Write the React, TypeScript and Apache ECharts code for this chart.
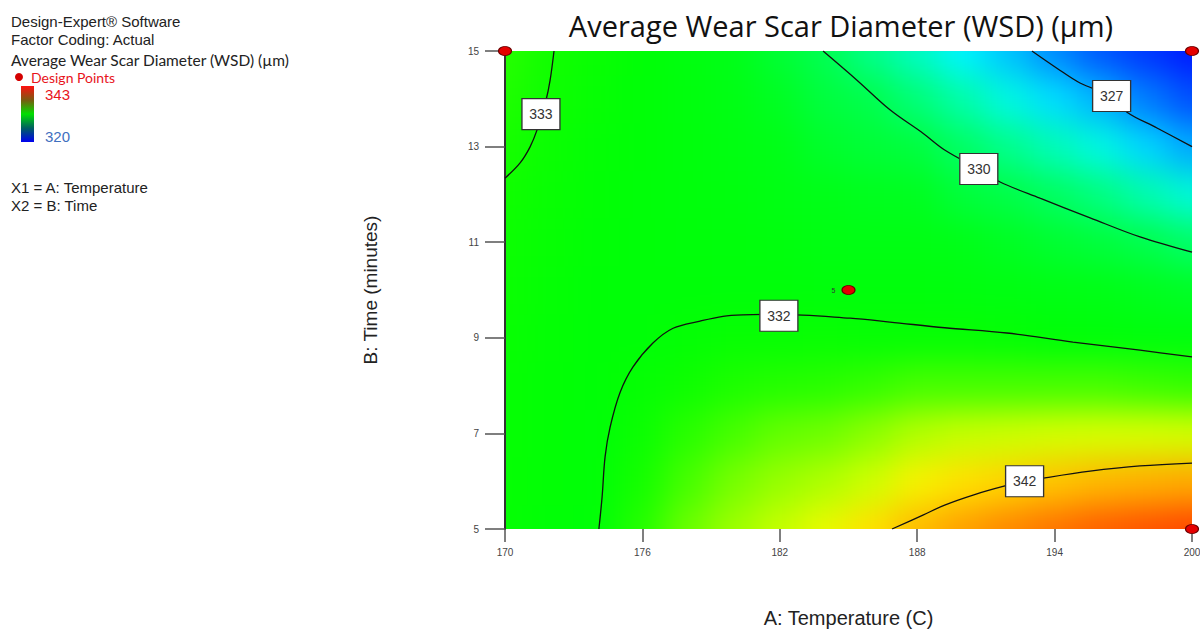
import React, { useEffect, useRef } from 'react';
import * as echarts from 'echarts';

// ---------- data ----------
const temperatureLevels = [170, 172, 174, 176, 178, 180, 182, 184, 186, 188, 190, 192, 194, 196, 198, 200];
const timeLevels = [5, 6, 7, 8, 9, 10, 11, 12, 13, 14, 15];

// estimated WSD (µm) at each temperature level, one row per time level
const wsdAt5 = [332.3, 332.05, 331.95, 333.5, 335.05, 336.6, 338.2, 339.7, 341.3, 342.5, 343.2, 343.8, 344.3, 344.8, 345.1, 345.4];
const wsdAt6 = [332.3, 332.1, 331.95, 333.1, 334.3, 335.4, 336.4, 337.3, 338.6, 340.4, 341.3, 341.85, 342.3, 342.6, 342.8, 342.95];
const wsdAt7 = [332.35, 332.1, 331.95, 332.7, 333.6, 334.3, 334.9, 335.2, 336.0, 337.4, 338.2, 338.5, 338.8, 338.9, 338.9, 338.8];
const wsdAt8 = [332.4, 332.15, 332.0, 332.3, 332.9, 333.3, 333.5, 333.6, 333.9, 334.3, 334.3, 334.3, 334.3, 334.3, 334.1, 333.9];
const wsdAt9 = [332.5, 332.2, 332.0, 331.95, 332.25, 332.45, 332.45, 332.5, 332.35, 332.4, 332.35, 332.25, 331.95, 331.85, 331.75, 331.6];
const wsdAt10 = [332.6, 332.25, 332.0, 331.9, 331.9, 331.85, 331.85, 331.75, 331.7, 331.7, 331.55, 331.4, 331.2, 331.1, 330.9, 330.75];
const wsdAt11 = [332.75, 332.35, 332.05, 331.9, 331.8, 331.7, 331.6, 331.35, 331.3, 331.3, 331.0, 330.8, 330.55, 330.35, 330.05, 329.7];
const wsdAt12 = [332.93, 332.5, 332.1, 331.9, 331.75, 331.55, 331.3, 331.0, 330.9, 330.85, 330.4, 330.15, 329.8, 329.4, 328.85, 328.4];
const wsdAt13 = [333.15, 332.65, 332.2, 331.95, 331.65, 331.4, 331.05, 330.65, 330.45, 330.3, 329.75, 329.25, 328.75, 328.3, 327.6, 327.0];
const wsdAt14 = [333.35, 332.85, 332.35, 331.97, 331.6, 331.2, 330.8, 330.3, 330.05, 329.5, 328.9, 328.3, 327.7, 327.15, 326.4, 325.6];
const wsdAt15 = [333.55, 333.03, 332.5, 332.0, 331.5, 331.0, 330.5, 329.97, 329.3, 328.65, 328.0, 327.35, 326.6, 325.8, 325.0, 324.2];
const wsdRows = [wsdAt5, wsdAt6, wsdAt7, wsdAt8, wsdAt9, wsdAt10, wsdAt11, wsdAt12, wsdAt13, wsdAt14, wsdAt15];

// contour lines [temperature, time]
const contour333 = [[172.14, 15], [171.97, 14.39], [171.79, 13.97], [171.4, 13.35], [171.09, 12.99], [170.66, 12.66], [170, 12.34]];
const contour332 = [[174.1, 5], [174.24, 5.67], [174.37, 6.51], [174.59, 7.13], [175.02, 7.85], [175.59, 8.39], [176.46, 8.89], [177.34, 9.2], [178.52, 9.35], [179.52, 9.45], [180.39, 9.48], [181.96, 9.49], [185.07, 9.41], [186.81, 9.33], [189.2, 9.21], [191.92, 9.1], [194.8, 8.91], [197.73, 8.74], [200, 8.6]];
const contour330 = [[183.89, 15], [185.37, 14.39], [186.81, 13.77], [188.25, 13.28], [189.2, 12.93], [190.69, 12.53], [191.62, 12.26], [193.36, 11.92], [195.55, 11.51], [197.73, 11.11], [200, 10.79]];
const contour327 = [[193.01, 15], [194.1, 14.64], [195.11, 14.33], [196.51, 14.04], [197.16, 13.72], [198.47, 13.39], [200, 13.0]];
const contour342 = [[186.9, 5], [188.25, 5.29], [189.2, 5.5], [190.44, 5.71], [191.83, 5.9], [192.66, 5.99], [193.58, 6.07], [195.55, 6.21], [197.73, 6.32], [200, 6.38]];
const contourLines = [contour333, contour332, contour330, contour327, contour342];

const contourLabelText = ['333', '332', '330', '327', '342'];
const contourLabelTemp = [171.57, 181.96, 190.69, 196.49, 192.69];
const contourLabelTime = [13.68, 9.46, 12.53, 14.06, 6.0];

// design points: temperature, time, replicates
const designTemp = [170, 200, 200, 185];
const designTime = [15, 15, 5, 10];
const designReps = [1, 1, 1, 5];

const xTickStep = 6;
const yTickStep = 2;
const legendHigh = 343;
const legendLow = 320;

const infoLines = ['Design-Expert® Software', 'Factor Coding: Actual'];
const factorLines = ['X1 = A: Temperature', 'X2 = B: Time'];

// ---------- styles ----------
const surfaceColors = ['#0000ff', '#0000ff', '#0000ff', '#0008ff', '#0014ff', '#0038ff', '#0060ff', '#00a8ff', '#00f4ff', '#00ffa0', '#00ff50', '#00ff18', '#00ff06', '#10ff00', '#38ff00', '#68ff00', '#8cff00', '#a8ff00', '#c0ff00', '#d8ff00', '#f0f800', '#ffe800', '#ffd000', '#ffa800', '#ff8000', '#ff5800', '#ff3000'];
const GRID = { left: 505, top: 51, width: 687, height: 478 };
const PAD = 60;

const surfaceData: number[][] = [];
wsdRows.forEach((row, j) => row.forEach((v, i) => surfaceData.push([temperatureLevels[i], timeLevels[j], v])));
const halfX = (temperatureLevels[1] - temperatureLevels[0]) / 2;
const halfY = (timeLevels[1] - timeLevels[0]) / 2;
const xMin = temperatureLevels[0];
const xMax = temperatureLevels[temperatureLevels.length - 1];
const yMin = timeLevels[0];
const yMax = timeLevels[timeLevels.length - 1];

export default function App() {
  const surfaceRef = useRef<HTMLDivElement>(null);
  const mainRef = useRef<HTMLDivElement>(null);

  useEffect(() => {
    const surf = echarts.init(surfaceRef.current!, null, { renderer: 'svg' });
    surf.setOption({
      animation: false,
      grid: { left: PAD, top: PAD, width: GRID.width, height: GRID.height, outerBoundsMode: 'none' },
      xAxis: { type: 'value', min: xMin, max: xMax, show: false },
      yAxis: { type: 'value', min: yMin, max: yMax, show: false },
      visualMap: { show: false, type: 'continuous', min: 320, max: 346, dimension: 2, seriesIndex: 0, inRange: { color: surfaceColors } },
      series: [{
        type: 'custom',
        data: surfaceData,
        encode: { x: 0, y: 1 },
        clip: false,
        renderItem: (params: any, api: any) => {
          const x = api.value(0), y = api.value(1);
          const a = api.coord([x - halfX, y + halfY]);
          const b = api.coord([x + halfX, y - halfY]);
          // edge cells are stretched past the plot so the smoothing has no fade at the borders
          const x0 = x - halfX < xMin ? 0 : a[0] - 0.5;
          const x1 = x + halfX > xMax ? api.getWidth() : b[0] + 0.5;
          const y0 = y + halfY > yMax ? 0 : a[1] - 0.5;
          const y1 = y - halfY < yMin ? api.getHeight() : b[1] + 0.5;
          return {
            type: 'rect',
            shape: { x: x0, y: y0, width: x1 - x0, height: y1 - y0 },
            style: { fill: api.visual('color'), opacity: 1 },
          };
        },
      }],
    });

    const main = echarts.init(mainRef.current!, null, { renderer: 'svg' });
    const axisFont = 'Liberation Sans';
    const series: any[] = contourLines.map((pts) => ({
      type: 'line', data: pts, smooth: 0.35, symbol: 'none', silent: true, z: 2,
      lineStyle: { color: '#111', width: 1.3, opacity: 1 },
    }));
    series.push({
      type: 'scatter', z: 5, silent: true, clip: false,
      symbol: 'rect', symbolSize: [38, 31],
      itemStyle: { color: '#ffffff', borderColor: '#333', borderWidth: 1.2, opacity: 1 },
      label: { show: true, position: 'inside', formatter: '{b}', fontFamily: axisFont, fontSize: 14, color: '#333' },
      data: contourLabelText.map((t, i) => ({ name: t, value: [contourLabelTemp[i], contourLabelTime[i]] })),
    });
    series.push({
      type: 'scatter', z: 8, silent: true, clip: false,
      symbol: 'circle', symbolSize: [13, 9],
      itemStyle: { color: '#e50000', borderColor: '#6a0000', borderWidth: 1, opacity: 1 },
      label: {
        show: true, position: 'left', distance: 6, fontSize: 7, color: '#333', fontFamily: axisFont,
        formatter: (p: any) => (p.value[2] > 1 ? String(p.value[2]) : ''),
      },
      data: designTemp.map((t, i) => [t, designTime[i], designReps[i]]),
    });

    const graphic: any[] = [];
    infoLines.forEach((t, i) => graphic.push({
      type: 'text', x: 11, y: [21, 39][i],
      style: { text: t, font: `15px "${axisFont}"`, fill: '#222', textVerticalAlign: 'middle' },
    }));
    graphic.push({
      type: 'text', x: 11, y: 59.5,
      style: { text: 'Average Wear Scar Diameter (WSD) (µm)', font: '15.5px Lato', fill: '#222', textVerticalAlign: 'middle' },
    });
    graphic.push({ type: 'circle', shape: { cx: 19, cy: 77, r: 4 }, style: { fill: '#d40000' } });
    graphic.push({
      type: 'text', x: 31, y: 77,
      style: { text: 'Design Points', font: '14px Lato', fill: '#e8141b', textVerticalAlign: 'middle' },
    });
    graphic.push({
      type: 'rect', shape: { x: 21, y: 86, width: 13, height: 56 },
      style: {
        fill: new echarts.graphic.LinearGradient(0, 0, 0, 1, [
          { offset: 0, color: '#ff1010' },
          { offset: 0.25, color: '#7a5a10' },
          { offset: 0.5, color: '#00e000' },
          { offset: 0.75, color: '#006060' },
          { offset: 1, color: '#0000f0' },
        ]),
      },
    });
    graphic.push({
      type: 'text', x: 45, y: 94.5,
      style: { text: String(legendHigh), font: `15px "${axisFont}"`, fill: '#e8141b', textVerticalAlign: 'middle' },
    });
    graphic.push({
      type: 'text', x: 45, y: 136,
      style: { text: String(legendLow), font: `15px "${axisFont}"`, fill: '#3f6fbf', textVerticalAlign: 'middle' },
    });
    factorLines.forEach((t, i) => graphic.push({
      type: 'text', x: 11, y: [187, 205][i],
      style: { text: t, font: `15px "${axisFont}"`, fill: '#222', textVerticalAlign: 'middle' },
    }));

    main.setOption({
      animation: false,
      backgroundColor: 'transparent',
      title: {
        text: 'Average Wear Scar Diameter (WSD) (µm)', left: 836, top: 6, textAlign: 'center',
        textStyle: { fontFamily: 'Open Sans', fontSize: 29, fontWeight: 'normal', color: '#111' },
      },
      grid: { ...GRID, outerBoundsMode: 'none', containLabel: false },
      xAxis: {
        type: 'value', min: 170, max: 200, interval: xTickStep,
        name: 'A: Temperature (C)', nameLocation: 'middle', nameGap: 79, nameMoveOverlap: false,
        nameTextStyle: { fontFamily: axisFont, fontSize: 20, color: '#222' },
        axisLine: { show: false },
        axisTick: { show: true, length: 13, lineStyle: { color: '#555', width: 1.5 } },
        axisLabel: { margin: 18, fontSize: 10, color: '#444', fontFamily: axisFont },
        splitLine: { show: false },
      },
      yAxis: {
        type: 'value', min: 5, max: 15, interval: yTickStep,
        name: 'B: Time (minutes)', nameLocation: 'middle', nameGap: 125, nameRotate: 90, nameMoveOverlap: false,
        nameTextStyle: { fontFamily: axisFont, fontSize: 19, color: '#222' },
        axisLine: { show: true, lineStyle: { color: '#333', width: 2 } },
        axisTick: { show: true, length: 20, lineStyle: { color: '#555', width: 1.5 } },
        axisLabel: { margin: 26, fontSize: 10, color: '#444', fontFamily: axisFont },
        splitLine: { show: false },
      },
      series,
      graphic,
    });

    return () => { surf.dispose(); main.dispose(); };
  }, []);

  return (
    <div style={{ position: 'absolute', left: 0, top: 0, width: 1200, height: 631, background: '#fff', overflow: 'hidden' }}>
      <div style={{ position: 'absolute', left: GRID.left, top: GRID.top, width: GRID.width, height: GRID.height, overflow: 'hidden' }}>
        <div
          ref={surfaceRef}
          style={{ position: 'absolute', left: -PAD, top: -PAD, width: GRID.width + 2 * PAD, height: GRID.height + 2 * PAD, filter: 'blur(16px)' }}
        />
      </div>
      <div ref={mainRef} style={{ position: 'absolute', left: 0, top: 0, width: 1200, height: 631 }} />
    </div>
  );
}
